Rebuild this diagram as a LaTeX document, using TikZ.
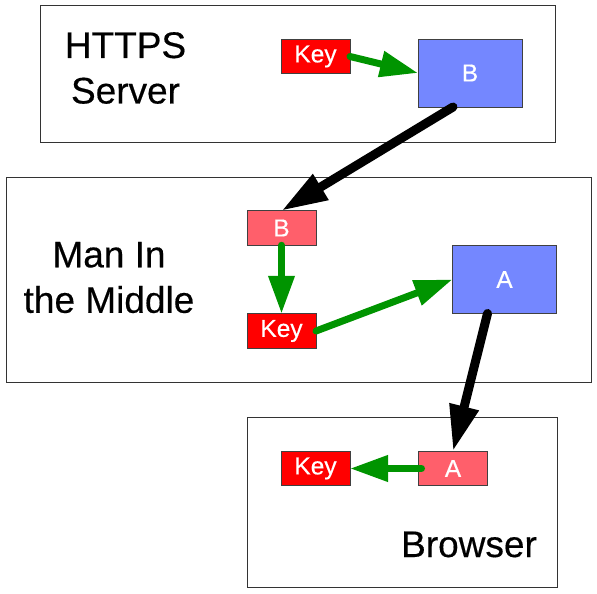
\documentclass[tikz,border=0pt]{standalone}
\usepackage{fontspec}
\setmainfont{Liberation Sans}[FakeBold=0.4]
\usetikzlibrary{arrows.meta,calc}
\definecolor{keyred}{HTML}{FF0000}
\definecolor{certpink}{HTML}{FF5F6B}
\definecolor{certblue}{HTML}{7487FF}
\definecolor{arrowgreen}{HTML}{009400}
\begin{document}
\begin{tikzpicture}[x=1pt,y=-1pt,
  every node/.style={inner sep=0pt,outer sep=0pt},
  box/.style={draw=black!80,line width=0.8pt},
  small/.style={draw=black!75,line width=0.8pt,text=white,font=\fontsize{24.5}{28}\selectfont,minimum width=69pt,minimum height=34.5pt},
  keybox/.style={small,fill=keyred},
  pinkbox/.style={small,fill=certpink},
  bluebox/.style={small,fill=certblue,minimum width=104pt,minimum height=68pt},
  biglabel/.style={align=center,font=\fontsize{37}{45.5}\selectfont},
  garrow/.style={draw=arrowgreen,line width=7pt,line cap=round,-{Triangle[length=38pt,width=25pt]}},
  karrow/.style={draw=black,line width=9pt,line cap=round,-{Triangle[length=46pt,width=28pt]}}]
  \useasboundingbox (0,0) rectangle (597,594);
  % the three parties
  \draw[box] (40,5) rectangle (555,142);
  \draw[box] (6,177) rectangle (591,382);
  \draw[box] (247,417) rectangle (557,587);
  \node[biglabel] (server) at (125.5,68) {HTTPS\\Server};
  \node[biglabel] (mitm) at (109,277.5) {Man In\\the Middle};
  \node[biglabel,anchor=base] (browser) at (469,557) {Browser};
  % keys and certificates
  \node[keybox] (key1) at (315.5,56.5) {Key};
  \node[bluebox] (certB) at (470,73) {B};
  \node[pinkbox] (fakeB) at (281.5,228) {B};
  \node[keybox] (key2) at (281.5,331) {Key};
  \node[bluebox] (certA) at (504.5,279.5) {A};
  \node[pinkbox] (fakeA) at (453,468.5) {A};
  \node[keybox] (key3) at (315.5,468.5) {Key};
  % signing and passing on
  \draw[garrow] (key1.east) -- (certB.west);
  \draw[karrow] ([xshift=-17pt]certB.south) -- (fakeB.north);
  \draw[garrow] (fakeB.south) -- (key2.north);
  \draw[garrow] (key2.east) -- (certA.west);
  \draw[karrow] ([xshift=-17pt]certA.south) -- (fakeA.north);
  \draw[garrow] ([xshift=3pt]fakeA.west) -- (key3.east);
\end{tikzpicture}
\end{document}
